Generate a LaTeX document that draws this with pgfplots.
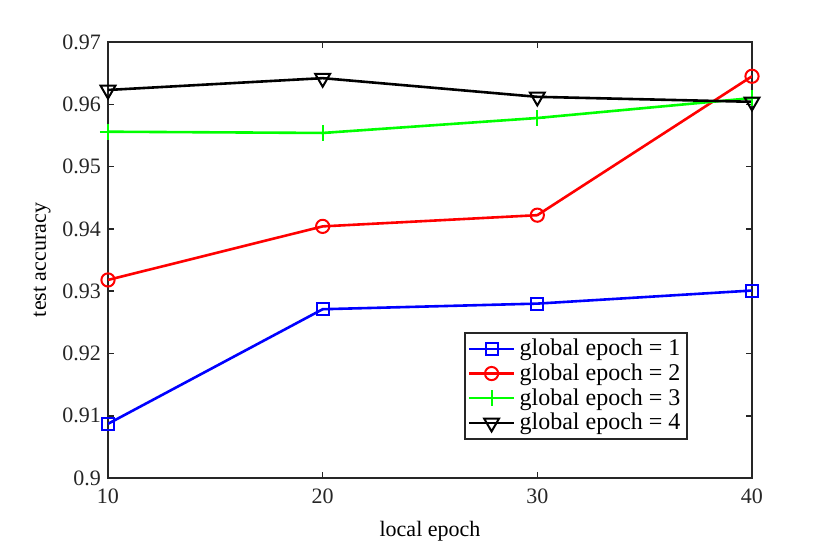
\documentclass[border=0pt]{standalone}
\usepackage{fontspec}
\setmainfont{Liberation Serif}
\usepackage{pgfplots}
\pgfplotsset{compat=1.18}
\definecolor{axgray}{rgb}{0.15,0.15,0.15}

\begin{document}
\begin{tikzpicture}
\useasboundingbox (-54pt,-32.5pt) rectangle (361pt,239pt);
\begin{axis}[
  at={(0,0)}, anchor=south west,
  scale only axis, width=322pt, height=218pt,
  xmin=10, xmax=40, ymin=0.9, ymax=0.97,
  xtick={10,20,30,40},
  ytick={0.9,0.91,...,0.97},
  yticklabel style={/pgf/number format/.cd,fixed,precision=2},
  /pgf/number format/assume math mode=true,
  tick align=inside, tick pos=both,
  major tick length=3pt,
  every tick/.style={axgray, line width=0.8pt},
  axis line style={axgray, line width=1pt},
  ticklabel style={font=\fontsize{11}{12}\selectfont, axgray},
  xticklabel style={yshift=-2pt},
  label style={font=\fontsize{11}{12}\selectfont},
  xlabel={local epoch}, ylabel={test accuracy},
  xlabel style={yshift=-2pt},
  ylabel style={yshift=-1pt},
  legend style={at={(0.553,0.087)}, anchor=south west,
    draw=axgray, line width=1pt, font=\fontsize{12}{13}\selectfont,
    row sep=-1.5pt, inner sep=1.2pt},
  legend cell align=left,
  legend image code/.code={
    \draw[mark repeat=2,mark phase=2] plot coordinates {(0cm,0cm) (0.4cm,0cm) (0.8cm,0cm)};},
]
\addplot[blue, line width=1.3pt, mark=square, mark size=3pt, mark options={solid, line width=1pt}]
  coordinates {(10,0.9087) (20,0.9271) (30,0.9280) (40,0.9301)};
\addplot[red, line width=1.3pt, mark=o, mark size=3.3pt, mark options={solid, line width=1pt}]
  coordinates {(10,0.9318) (20,0.9404) (30,0.9422) (40,0.9645)};
\addplot[green, line width=1.3pt, mark=+, mark size=4pt, mark options={solid, line width=1pt}]
  coordinates {(10,0.9556) (20,0.9554) (30,0.9578) (40,0.9610)};
\addplot[black, line width=1.3pt, mark=triangle, mark size=4.3pt, mark options={solid, line width=1pt, rotate=180}]
  coordinates {(10,0.9623) (20,0.9642) (30,0.9612) (40,0.9604)};
\legend{global epoch = 1, global epoch = 2, global epoch = 3, global epoch = 4}
\end{axis}
\end{tikzpicture}
\end{document}
